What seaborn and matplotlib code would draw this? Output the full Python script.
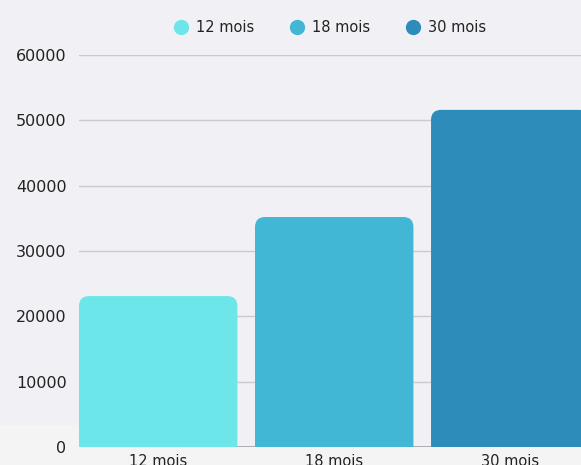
"""Bar chart: amount by duration (12 / 18 / 30 mois)."""

import matplotlib.pyplot as plt
import pandas as pd
import seaborn as sns
from matplotlib.lines import Line2D
from matplotlib.patches import FancyBboxPatch, Rectangle

# --------------------------------------------------------------------------- #
# Data
# --------------------------------------------------------------------------- #
categories = ["12 mois", "18 mois", "30 mois"]
values = [23100, 35200, 51600]
y_ticks = [0, 10000, 20000, 30000, 40000, 50000, 60000]

# --------------------------------------------------------------------------- #
# Styling
# --------------------------------------------------------------------------- #
BAR_COLORS = ["#6ce6e8", "#42b7d5", "#2d8cba"]
BG_COLOR = "#f1f0f5"
BOTTOM_BG = "#f4f4f4"
GRID_COLOR = "#cacaca"
TEXT_COLOR = "#222222"
FONT_SIZE = 10.5
FONT_SIZE_Y = 11.5

sns.set_style("white")
plt.rcParams["font.family"] = ["DejaVu Sans"]

W, H = 581, 465
fig = plt.figure(figsize=(W / 100, H / 100), dpi=100, facecolor=BG_COLOR)

# lighter strip at the bottom of the card
fig.patches.append(Rectangle((0, 0), 1, (H - 447) / H, transform=fig.transFigure,
                             facecolor=BOTTOM_BG, edgecolor="none", zorder=0))
fig.patches.append(Rectangle((0, 0), 79 / W, (H - 425) / H, transform=fig.transFigure,
                             facecolor=BOTTOM_BG, edgecolor="none", zorder=0))

ax_left, ax_right = 79 / W, 1.0
ax_bottom, ax_top = (H - 447) / H, (H - 55) / H
ax = fig.add_axes([ax_left, ax_bottom, ax_right - ax_left, ax_top - ax_bottom])
ax.set_facecolor("none")
ax.set_zorder(2)

df = pd.DataFrame({"duree": categories, "montant": values})
sns.barplot(data=df, x="duree", y="montant", hue="duree", palette=BAR_COLORS,
            saturation=1, width=0.9, legend=False, ax=ax)

x_lo, x_hi = -0.45, 2.402
ax.set_xlim(x_lo, x_hi)
ax.set_ylim(0, 60000)

# replace square bars with top-rounded ones
ax_w_px = (ax_right - ax_left) * W
ax_h_px = (ax_top - ax_bottom) * H
x_per_px = (x_hi - x_lo) / ax_w_px
y_per_px = 60000 / ax_h_px
radius_px = 10
r_x = radius_px * x_per_px
r_y = radius_px * y_per_px
for bar in list(ax.patches):
    x0, w, h = bar.get_x(), bar.get_width(), bar.get_height()
    color = bar.get_facecolor()
    bar.remove()
    ax.add_patch(FancyBboxPatch((x0, -r_y), w, h + r_y,
                                boxstyle=f"round,pad=0,rounding_size={r_x}",
                                mutation_aspect=y_per_px / x_per_px,
                                facecolor=color, edgecolor="none", zorder=2))

ax.set_yticks(y_ticks)
ax.yaxis.grid(True, color=GRID_COLOR, linewidth=1)
ax.set_axisbelow(True)
ax.axhline(0, color="#a8a8a8", linewidth=2, zorder=1)
sns.despine(ax=ax, left=True, bottom=True)
ax.tick_params(axis="both", length=0, colors=TEXT_COLOR)
ax.tick_params(axis="y", pad=9, labelsize=FONT_SIZE_Y)
ax.tick_params(axis="x", pad=5, labelsize=FONT_SIZE)
ax.set_xlabel("")
ax.set_ylabel("")

handles = [Line2D([0], [0], marker="o", lw=0, markersize=11,
                  markerfacecolor=c, markeredgecolor="none") for c in BAR_COLORS]
fig.legend(handles=handles, labels=categories, loc="center", ncol=3,
           bbox_to_anchor=(330 / W, 1 - 28 / H), frameon=False, fontsize=FONT_SIZE,
           handletextpad=0.55, columnspacing=2.4, handlelength=1.0,
           labelcolor=TEXT_COLOR)

fig.savefig("out.png", dpi=100, facecolor=fig.get_facecolor())
